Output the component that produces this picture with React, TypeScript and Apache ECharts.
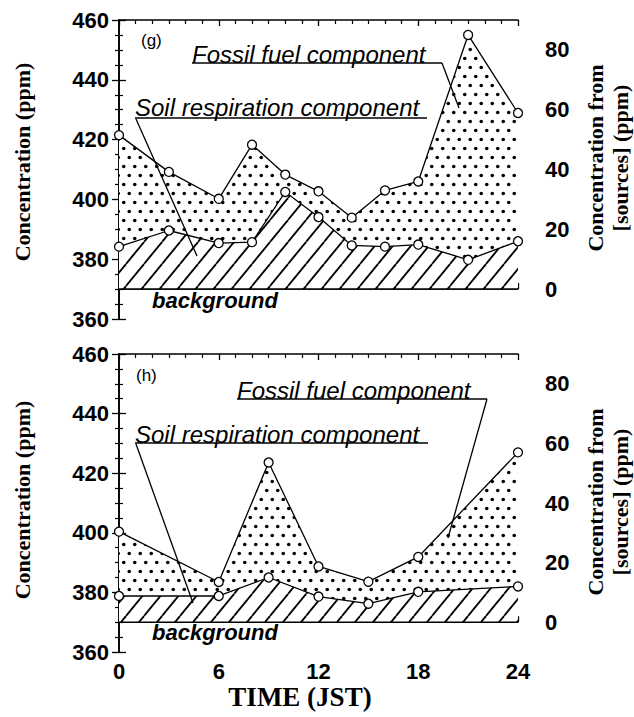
import React, { useEffect, useRef } from 'react';
import * as echarts from 'echarts';

// ---- data ----
const hoursG = [0, 3, 6, 8, 10, 12, 14, 16, 18, 21, 24];
const fossilG = [421.5, 409.2, 400.2, 418.3, 408.3, 402.7, 393.9, 403, 406, 455, 428.9];
const soilG = [384.2, 389.6, 385.4, 385.7, 402.5, 394.1, 384.6, 384.2, 384.9, 379.8, 386];

const hoursH = [0, 6, 9, 12, 15, 18, 24];
const fossilH = [400.4, 383.5, 423.6, 388.7, 383.6, 391.9, 427];
const soilH = [378.8, 378.8, 385, 378.6, 376.2, 380.2, 382];

const backgroundLevel = 370;
const timeRange = [0, 24];
const leftRange = [360, 460];
const rightRange = [-10, 90];
const rightLabelValues = [0, 20, 40, 60, 80];

const SANS = '"Liberation Sans", Arial, sans-serif';
const SERIF = '"Liberation Serif", "Times New Roman", serif';

function hatchPattern(): HTMLCanvasElement {
  const W = 18, H = 22;
  const c = document.createElement('canvas');
  c.width = W; c.height = H;
  const ctx = c.getContext('2d')!;
  ctx.fillStyle = '#fff';
  ctx.fillRect(0, 0, W, H);
  ctx.strokeStyle = '#000';
  ctx.lineWidth = 1.8;
  for (const x0 of [-W, 0, W]) {
    ctx.beginPath();
    ctx.moveTo(x0, H);
    ctx.lineTo(x0 + W, 0);
    ctx.stroke();
  }
  return c;
}

function dotPattern(): HTMLCanvasElement {
  const W = 11, H = 18;
  const c = document.createElement('canvas');
  c.width = W; c.height = H;
  const ctx = c.getContext('2d')!;
  ctx.fillStyle = '#fff';
  ctx.fillRect(0, 0, W, H);
  ctx.fillStyle = '#000';
  for (const [x, y] of [[2.75, 4.5], [8.25, 13.5]]) {
    ctx.beginPath();
    ctx.arc(x, y, 1.8, 0, Math.PI * 2);
    ctx.fill();
  }
  return c;
}

function zip(xs: number[], ys: number[]) {
  return xs.map((x, i) => [x, ys[i]]);
}

export default function App() {
  const ref = useRef<HTMLDivElement>(null);
  useEffect(() => {
    if (!ref.current) return;
    const chart = echarts.init(ref.current, undefined, { renderer: 'svg' });
    const hatch = { image: hatchPattern(), repeat: 'repeat' };
    const dots = { image: dotPattern(), repeat: 'repeat' };

    const grids = [
      { left: 119, top: 20, width: 399, height: 299 },
      { left: 119, top: 354, width: 399, height: 298 },
    ];

    const axisLine = { show: true, lineStyle: { color: '#000', width: 1.6 } };

    const xAxes: any[] = [];
    const yAxes: any[] = [];
    grids.forEach((_, gi) => {
      const isBottom = gi === 1;
      xAxes.push({
        type: 'value', gridIndex: gi, position: 'bottom',
        min: timeRange[0], max: timeRange[1], interval: 6,
        axisLine,
        axisTick: { show: true, inside: true, length: 6, lineStyle: { color: '#000', width: 1.3 } },
        minorTick: { show: true, splitNumber: 6, length: 4, lineStyle: { color: '#000', width: 1.2 } },
        splitLine: { show: false },
        axisLabel: {
          show: isBottom, color: '#000', fontFamily: SANS, fontWeight: 'bold', fontSize: 22, margin: 8,
        },
      });
      xAxes.push({
        type: 'value', gridIndex: gi, position: 'top',
        min: timeRange[0], max: timeRange[1], interval: 6,
        axisLine,
        axisTick: { show: true, inside: true, length: 6, lineStyle: { color: '#000', width: 1.3 } },
        minorTick: { show: true, splitNumber: 6, length: 4, lineStyle: { color: '#000', width: 1.2 } },
        splitLine: { show: false },
        axisLabel: { show: false },
      });
      yAxes.push({
        type: 'value', gridIndex: gi, position: 'left',
        min: leftRange[0], max: leftRange[1], interval: 20,
        axisLine,
        axisTick: { show: true, inside: true, length: 7, lineStyle: { color: '#000', width: 1.3 } },
        minorTick: { show: true, splitNumber: 4, length: 4, lineStyle: { color: '#000', width: 1.2 } },
        splitLine: { show: false },
        axisLabel: { color: '#000', fontFamily: SANS, fontWeight: 'bold', fontSize: 22, margin: 10 },
      });
      yAxes.push({
        type: 'value', gridIndex: gi, position: 'right',
        min: leftRange[0], max: leftRange[1], interval: 20,
        axisLine,
        axisTick: { show: true, inside: true, length: 7, lineStyle: { color: '#000', width: 1.3 } },
        minorTick: { show: true, splitNumber: 4, length: 4, lineStyle: { color: '#000', width: 1.2 } },
        splitLine: { show: false },
        axisLabel: { show: false },
      });
      yAxes.push({
        type: 'value', gridIndex: gi, position: 'right',
        min: rightRange[0], max: rightRange[1], interval: 10,
        axisLine: { show: false },
        axisTick: { show: false },
        splitLine: { show: false },
        axisLabel: {
          color: '#000', fontFamily: SANS, fontWeight: 'bold', fontSize: 22, margin: 27,
          formatter: (v: number) => (rightLabelValues.includes(v) ? String(v) : ''),
        },
      });
    });

    const lineStyle = { color: '#000', width: 1.3 };
    const itemStyle = { color: '#fff', borderColor: '#000', borderWidth: 1.3 };

    const panelSeries = (gi: number, hours: number[], fossil: number[], soil: number[]) => [
      {
        name: 'Fossil fuel component', type: 'line', xAxisIndex: gi * 2, yAxisIndex: gi * 3,
        data: zip(hours, fossil), z: 2,
        symbol: 'circle', symbolSize: 9, showSymbol: true,
        lineStyle, itemStyle,
        areaStyle: { origin: backgroundLevel, color: dots, opacity: 1 },
      },
      {
        name: 'Soil respiration component', type: 'line', xAxisIndex: gi * 2, yAxisIndex: gi * 3,
        data: zip(hours, soil), z: 3,
        symbol: 'circle', symbolSize: 9, showSymbol: true,
        lineStyle, itemStyle,
        areaStyle: { origin: backgroundLevel, color: hatch, opacity: 1 },
      },
      {
        name: 'background', type: 'line', xAxisIndex: gi * 2, yAxisIndex: gi * 3,
        data: [[timeRange[0], backgroundLevel], [timeRange[1], backgroundLevel]], z: 4,
        symbol: 'none', lineStyle: { color: '#000', width: 1.5 },
      },
    ];

    const txt = (text: string, x: number, y: number, font: string, extra: any = {}) => ({
      type: 'text', x, y, z: 100,
      style: { text, font, fill: '#000', textAlign: 'left', textVerticalAlign: 'middle', ...extra },
    });
    const seg = (x1: number, y1: number, x2: number, y2: number, w = 1.3) => ({
      type: 'line', z: 100,
      shape: { x1, y1, x2, y2 },
      style: { stroke: '#000', lineWidth: w },
    });

    const labelFont = `italic 24px ${SANS}`;
    const bgFont = `italic bold 22px ${SANS}`;

    const graphic: any[] = [
      // panel g
      txt('(g)', 141, 40, `17px ${SANS}`),
      txt('Fossil fuel component', 192, 54, labelFont),
      seg(192, 63, 442, 63, 1.5),
      seg(442, 63, 459, 108),
      txt('Soil respiration component', 135, 107, labelFont),
      seg(135, 118, 427, 118, 1.5),
      seg(136, 119, 197, 256),
      txt('background', 152, 300, bgFont),
      // panel h
      txt('(h)', 136, 375, `17px ${SANS}`),
      txt('Fossil fuel component', 237, 390, labelFont),
      seg(237, 399, 487, 399, 1.5),
      seg(487, 399, 448, 538),
      txt('Soil respiration component', 135, 434, labelFont),
      seg(135, 443, 428, 443, 1.5),
      seg(136, 444, 193, 603),
      txt('background', 152, 632, bgFont),
      // axis titles
      txt('Concentration (ppm)', 22, 162, `bold 22px ${SERIF}`, { textAlign: 'center' }),
      txt('Concentration (ppm)', 22, 500, `bold 22px ${SERIF}`, { textAlign: 'center' }),
      txt('Concentration from\n[sources] (ppm)', 608, 158, `bold 22px ${SERIF}`, { textAlign: 'center', lineHeight: 25 }),
      txt('Concentration from\n[sources] (ppm)', 608, 502, `bold 22px ${SERIF}`, { textAlign: 'center', lineHeight: 25 }),
      txt('TIME (JST)', 300, 697, `bold 27px ${SERIF}`, { textAlign: 'center' }),
    ];
    // rotate vertical axis titles
    for (let i = graphic.length - 5; i < graphic.length - 1; i++) graphic[i].rotation = Math.PI / 2;

    chart.setOption({
      animation: false,
      grid: grids,
      xAxis: xAxes,
      yAxis: yAxes,
      series: [
        ...panelSeries(0, hoursG, fossilG, soilG),
        ...panelSeries(1, hoursH, fossilH, soilH),
      ],
      graphic,
    });
    return () => chart.dispose();
  }, []);
  return <div ref={ref} style={{ position: 'fixed', left: 0, top: 0, width: 634, height: 717, background: '#fff' }} />;
}
